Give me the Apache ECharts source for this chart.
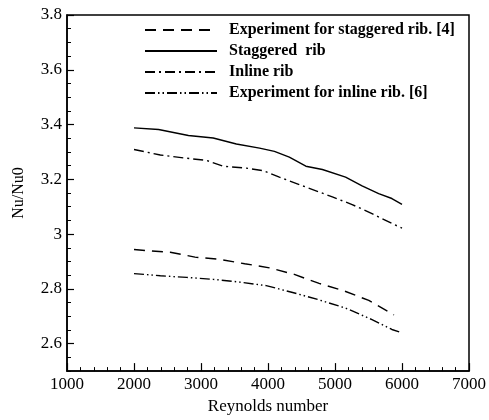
<!DOCTYPE html>
<html><head><meta charset="utf-8">
<script src="https://cdn.jsdelivr.net/npm/echarts@6/dist/echarts.min.js"></script>
<style>html,body{margin:0;padding:0;background:#fff}#c{width:489px;height:420px}</style>
</head><body><div id="c"></div>
<script>
const seriesNames = ['Experiment for staggered rib. [4]', 'Staggered  rib', 'Inline rib', 'Experiment for inline rib. [6]'];
const expStaggered = [[2000,2.944],[2185,2.940],[2541,2.934],[2911,2.916],[3281,2.908],[3652,2.892],[4022,2.877],[4393,2.853],[4763,2.820],[5133,2.793],[5504,2.758],[5880,2.705]];
const staggered = [[2000,3.388],[2367,3.382],[2812,3.360],[3182,3.351],[3528,3.329],[3874,3.314],[4096,3.302],[4318,3.281],[4565,3.248],[4812,3.236],[5158,3.208],[5404,3.176],[5652,3.148],[5849,3.130],[6000,3.109]];
const inline = [[2000,3.309],[2393,3.289],[2788,3.277],[3084,3.269],[3330,3.248],[3677,3.241],[3923,3.232],[4170,3.208],[4565,3.172],[4960,3.136],[5256,3.108],[5552,3.075],[5849,3.039],[6000,3.022]];
const expInline = [[2000,2.856],[2393,2.848],[2788,2.842],[3182,2.835],[3578,2.825],[3973,2.812],[4368,2.787],[4763,2.760],[5158,2.730],[5552,2.688],[5849,2.652],[6000,2.640]];
const xName = 'Reynolds number';
const yName = 'Nu/Nu0';

const serif = '"Liberation Serif", "Times New Roman", serif';
const dashes = [[11,7],'solid',[10,4,2,4],[10,3,1.5,3,1.5,3]];
const datasets = [expStaggered, staggered, inline, expInline];

const chart = echarts.init(document.getElementById('c'), null, {renderer:'canvas'});
chart.setOption({
  animation:false,
  backgroundColor:'#fff',
  grid:{left:67, right:18, top:15, bottom:45, show:true, borderColor:'#000', borderWidth:1.5, backgroundColor:'transparent'},
  legend:{
    orient:'vertical', left:139, top:17, itemGap:5, itemWidth:72, itemHeight:16,
    data: seriesNames,
    itemStyle:{opacity:0, borderWidth:0},
    textStyle:{fontFamily:serif, fontWeight:'bold', fontSize:16, lineHeight:16, color:'#000', padding:[0,0,0,7]},
    inactiveColor:'#000'
  },
  xAxis:{
    type:'value', min:1000, max:7000, interval:1000,
    name:xName, nameLocation:'middle', nameGap:26,
    nameTextStyle:{fontFamily:serif, fontSize:17, color:'#000'},
    axisLine:{show:true, lineStyle:{color:'#000', width:1.5}},
    axisTick:{show:true, inside:true, length:8, lineStyle:{color:'#000', width:1.2}},
    minorTick:{show:true, splitNumber:5, length:4, lineStyle:{color:'#000', width:1}},
    axisLabel:{fontFamily:serif, fontSize:17, color:'#000', margin:5, formatter:v=>String(v)},
    splitLine:{show:false}
  },
  yAxis:[{
    type:'value', min:2.5, max:3.8, splitNumber:6,
    name:yName, nameLocation:'middle', nameGap:40,
    nameTextStyle:{fontFamily:serif, fontSize:16, color:'#000'},
    axisLine:{show:true, lineStyle:{color:'#000', width:1.5}},
    axisTick:{show:true, inside:true, length:7, lineStyle:{color:'#000', width:1.2}},
    axisLabel:{fontFamily:serif, fontSize:17, color:'#000', margin:5, showMinLabel:false, formatter:v=>String(+v.toFixed(2))},
    splitLine:{show:false}
  },{
    type:'value', min:2.5, max:3.8, interval:0.05, position:'left',
    axisLine:{show:false},
    axisTick:{show:true, inside:true, length:4, lineStyle:{color:'#000', width:1}},
    axisLabel:{show:false},
    splitLine:{show:false}
  }],
  series: seriesNames.map((n,i)=>({
    name:n, type:'line', data:datasets[i], symbol:'none', smooth:false, yAxisIndex:0,
    lineStyle:{color:'#000', width:1.4, type:dashes[i]},
    itemStyle:{color:'#000'}
  }))
});
</script></body></html>
